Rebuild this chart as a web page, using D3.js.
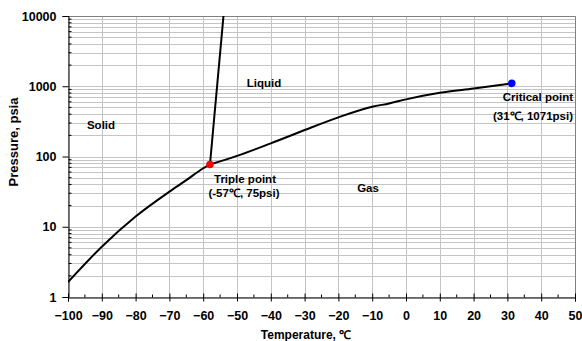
<!DOCTYPE html>
<html>
<head>
<meta charset="utf-8">
<script src="https://cdn.jsdelivr.net/npm/d3@7"></script>
<style>
  body { margin: 0; background: #fff; }
  text { font-family: Arial, 'Liberation Sans', sans-serif; font-weight: bold; }
</style>
</head>
<body>
<div id="chart"></div>
<script>
// sublimation curve (solid / gas)
const sublimation = [
  [-100, 1.63], [-90, 5.2], [-80, 14], [-70, 31.6], [-65, 46], [-60, 68], [-58, 77]
]
// vaporisation curve (liquid / gas)
const vaporisation = [
  [-58, 77], [-50, 102], [-40, 154], [-30, 238], [-20, 361], [-10, 510],
  [-5, 570], [0, 650], [10, 806], [20, 930], [31.3, 1100]
]
// melting line (solid / liquid)
const melting = [[-58, 77], [-54, 10000]]

const triplePoint = [-58, 77]
const criticalPoint = [31.3, 1100]

const xTicks = d3.range(-100, 51, 10)
const yTicks = [1, 10, 100, 1000, 10000]

const width = 582
const height = 341
const margin = { top: 16, left: 68, right: 7, bottom: 44 }

const svg = d3
  .select('#chart')
  .append('svg')
  .attr('width', width)
  .attr('height', height)

const x = d3.scaleLinear().domain([-100, 50]).range([margin.left, width - margin.right])
const y = d3.scaleLog().domain([1, 10000]).range([height - margin.bottom, margin.top])

// minor log values 2..9 for each decade
const yMinor = []
for (let d = 1; d < 10000; d *= 10) {
  for (let k = 2; k <= 9; k++) yMinor.push(d * k)
}

// grid
svg.append('g')
  .selectAll('line')
  .data(yMinor.concat(yTicks))
  .enter()
  .append('line')
  .attr('x1', x(-100)).attr('x2', x(50))
  .attr('y1', d => Math.round(y(d)) + 0.5).attr('y2', d => Math.round(y(d)) + 0.5)
  .attr('stroke', '#c4c4c4')
  .attr('stroke-width', 1)

svg.append('g')
  .selectAll('line')
  .data(xTicks)
  .enter()
  .append('line')
  .attr('x1', d => Math.round(x(d)) + 0.5).attr('x2', d => Math.round(x(d)) + 0.5)
  .attr('y1', y(10000)).attr('y2', y(1))
  .attr('stroke', '#c4c4c4')
  .attr('stroke-width', 1)

// frame (top and right)
svg.append('path')
  .attr('d', `M${x(-100)},${Math.round(y(10000)) + 0.5}H${Math.round(x(50)) + 0.5}V${y(1)}`)
  .attr('fill', 'none')
  .attr('stroke', '#808080')

// x axis
const xAxis = svg.append('g')
  .attr('transform', `translate(0,${Math.round(y(1)) + 0.5})`)
  .call(d3.axisBottom(x).tickValues(xTicks).tickSize(4).tickPadding(10).tickFormat(d3.format('d')))
xAxis.select('.domain').attr('stroke', '#000')
xAxis.selectAll('.tick line').attr('y1', -4).attr('stroke', '#000')
xAxis.selectAll('.tick text').attr('font-size', 12.5).attr('fill', '#000')
  .style('font-family', 'Arial, Liberation Sans, sans-serif').style('font-weight', 'bold')
xAxis.selectAll('.minor')
  .data(d3.range(-95, 50, 10))
  .enter()
  .append('line')
  .attr('x1', d => x(d)).attr('x2', d => x(d))
  .attr('y1', -3).attr('y2', 0)
  .attr('stroke', '#000')

// y axis
const yAxis = svg.append('g')
  .attr('transform', `translate(${Math.round(x(-100)) + 0.5},0)`)
  .call(d3.axisLeft(y).tickValues(yTicks).tickSize(6).tickPadding(6).tickFormat(d3.format('d')))
yAxis.select('.domain').attr('stroke', '#000')
yAxis.selectAll('.tick line').attr('stroke', '#000')
yAxis.selectAll('.tick text').attr('font-size', 12.5).attr('fill', '#000')
  .style('font-family', 'Arial, Liberation Sans, sans-serif').style('font-weight', 'bold')
yAxis.selectAll('.minor')
  .data(yMinor)
  .enter()
  .append('line')
  .attr('x1', 0).attr('x2', 3)
  .attr('y1', d => y(d)).attr('y2', d => y(d))
  .attr('stroke', '#000')

// axis titles
svg.append('text')
  .attr('x', 306).attr('y', 339)
  .attr('text-anchor', 'middle')
  .attr('font-size', 12)
  .text('Temperature, ℃')

svg.append('text')
  .attr('transform', 'translate(18,142) rotate(-90)')
  .attr('text-anchor', 'middle')
  .attr('font-size', 13)
  .text('Pressure, psia')

// curves
const plot = svg.append('g')
const clip = svg.append('clipPath').attr('id', 'clip')
clip.append('rect')
  .attr('x', x(-100)).attr('y', y(10000))
  .attr('width', x(50) - x(-100)).attr('height', y(1) - y(10000))
plot.attr('clip-path', 'url(#clip)')

const line = d3.line()
  .x(d => x(d[0]))
  .y(d => y(d[1]))
  .curve(d3.curveMonotoneX)

;[sublimation, vaporisation].forEach(data => {
  plot.append('path')
    .datum(data)
    .attr('d', line)
    .attr('fill', 'none')
    .attr('stroke', '#000')
    .attr('stroke-width', 2)
})

plot.append('path')
  .datum(melting)
  .attr('d', d3.line().x(d => x(d[0])).y(d => y(d[1])))
  .attr('fill', 'none')
  .attr('stroke', '#000')
  .attr('stroke-width', 2)

svg.append('circle')
  .attr('cx', x(triplePoint[0])).attr('cy', y(triplePoint[1]))
  .attr('r', 3.8).attr('fill', '#ff0000')

svg.append('circle')
  .attr('cx', x(criticalPoint[0])).attr('cy', y(criticalPoint[1]))
  .attr('r', 3.8).attr('fill', '#0000ff')

// region and point labels
const labels = [
  { t: 'Solid', x: 101, y: 129, a: 'middle' },
  { t: 'Liquid', x: 264, y: 87, a: 'middle' },
  { t: 'Gas', x: 368, y: 192, a: 'middle' },
  { t: 'Triple point', x: 245, y: 183, a: 'middle' },
  { t: '(-57℃, 75psi)', x: 244, y: 197, a: 'middle' },
  { t: 'Critical point', x: 573, y: 101, a: 'end' },
  { t: '(31℃, 1071psi)', x: 573, y: 120, a: 'end' }
]
svg.append('g')
  .selectAll('text')
  .data(labels)
  .enter()
  .append('text')
  .attr('x', d => d.x).attr('y', d => d.y)
  .attr('text-anchor', d => d.a)
  .attr('font-size', 11.5)
  .text(d => d.t)
</script>
</body>
</html>
